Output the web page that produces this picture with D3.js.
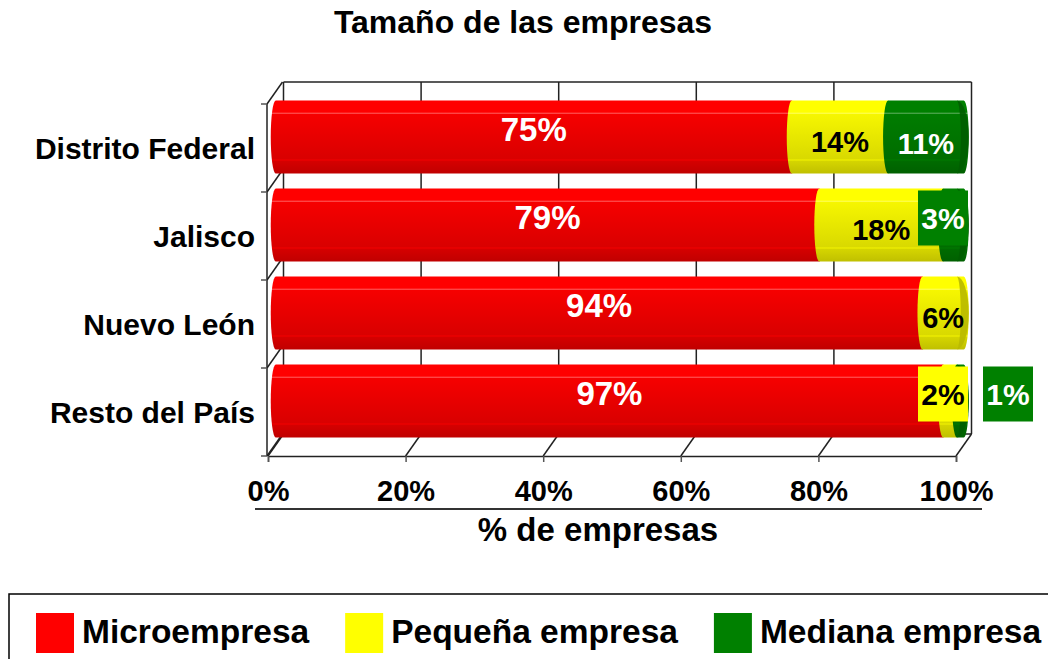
<!DOCTYPE html>
<html>
<head>
<meta charset="utf-8">
<script src="https://cdn.jsdelivr.net/npm/d3@7"></script>
<style>
body { margin: 0; background: #fff; }
text { font-family: "Liberation Sans", Arial, sans-serif; font-weight: bold; }
</style>
</head>
<body>
<svg id="mainsvg" width="1048" height="659"></svg>
<script>
// data
const categories = ["Distrito Federal", "Jalisco", "Nuevo León", "Resto del País"];
const seriesNames = ["Microempresa", "Pequeña empresa", "Mediana empresa"];
const micro = [75, 79, 94, 97];
const pequena = [14, 18, 6, 2];
const mediana = [11, 3, 0, 1];
const xTicks = [0, 20, 40, 60, 80, 100];

const colors = ["#ff0000", "#ffff00", "#008000"];
const labelColors = ["#ffffff", "#000000", "#ffffff"];
const labelSize = [33, 29, 29];
const labelDy = [-7.5, 5, 7];

let svg = d3.select('#mainsvg');
const series = [micro, pequena, mediana];
const depth = {dx: 15.5, dy: -22};

const x = d3.scaleLinear().domain([0, 100]).range([268, 956]);
const y = d3.scaleBand().domain(categories).range([104, 456]);
const bw = y.bandwidth();
const barH = bw * 0.83;
const rx = 5;

// gradients for the cylinders
const defs = svg.append('defs');
colors.forEach((c, i) => {
    const base = d3.rgb(c);
    const mix = t => d3.interpolateRgb(base, "#ffffff")(t);
    const g = defs.append('linearGradient').attr('id', 'grad' + i)
        .attr('x1', 0).attr('y1', 0).attr('x2', 0).attr('y2', 1);
    [[0, base], [0.16, base], [0.175, mix(0.35)], [0.19, base.darker(0.1)],
     [0.8, base.darker(0.45)], [0.815, base.darker(0.15)], [0.83, base.darker(0.5)],
     [1, base.darker(0.8)]].forEach(s => {
        g.append('stop').attr('offset', s[0]).attr('stop-color', s[1]);
    });
});

// 3D frame: back wall, grid, floor
const frame = svg.append('g').attr('stroke', '#222').attr('stroke-width', 1.5).attr('fill', 'none');
const bx0 = x(0) + depth.dx, bx1 = x(100) + depth.dx;
const by0 = y.range()[0] + depth.dy, by1 = y.range()[1] + depth.dy;
frame.selectAll('line.grid').data(xTicks).enter().append('line')
    .attr('x1', d => x(d) + depth.dx).attr('x2', d => x(d) + depth.dx)
    .attr('y1', by0).attr('y2', by1);
frame.append('line').attr('x1', bx0).attr('x2', bx1).attr('y1', by0).attr('y2', by0);
frame.append('line').attr('x1', bx0).attr('x2', bx1).attr('y1', by1).attr('y2', by1);
frame.selectAll('line.floor').data(xTicks).enter().append('line')
    .attr('x1', d => x(d)).attr('y1', y.range()[1])
    .attr('x2', d => x(d) + depth.dx).attr('y2', by1);
const bounds = categories.map(c => y(c)).concat([y.range()[1]]);
frame.selectAll('line.lw').data(bounds).enter().append('line')
    .attr('x1', x(0) - 1).attr('y1', d => d)
    .attr('x2', x(0) - 1 + depth.dx).attr('y2', d => d + depth.dy);

// bars as stacked cylinders
function segPath(x0, x1, top, bot) {
    const ry = (bot - top) / 2;
    return `M${x0},${top}L${x1},${top}A${rx},${ry} 0 0 1 ${x1},${bot}L${x0},${bot}A${rx},${ry} 0 0 1 ${x0},${top}Z`;
}
function capPath(x1, top, bot) {
    const ry = (bot - top) / 2;
    const xs = x1 - 7;
    return `M${xs},${top}A${rx + 7},${ry} 0 0 1 ${xs},${bot}A${4},${ry} 0 0 0 ${xs},${top}Z`;
}

const rows = categories.map((c, i) => {
    let acc = 0;
    const segs = series.map((s, k) => {
        const seg = {k: k, v: s[i], start: acc, end: acc + s[i]};
        acc += s[i];
        return seg;
    }).filter(d => d.v > 0);
    const cy = y(c) + bw / 2 + depth.dy / 2;
    return {cat: c, cy: cy, top: cy - barH / 2, bot: cy + barH / 2, segs: segs};
});
const bx = v => x(v) + depth.dx / 2;

const barG = svg.append('g');
rows.forEach(r => {
    const g = barG.append('g');
    g.selectAll('path.seg').data(r.segs).enter().append('path')
        .attr('d', d => segPath(bx(d.start), bx(d.end), r.top, r.bot))
        .attr('fill', d => `url(#grad${d.k})`);
    const last = r.segs[r.segs.length - 1];
    g.append('path').attr('d', capPath(bx(last.end), r.top, r.bot))
        .attr('fill', d3.rgb(colors[last.k]).darker(0.9)).attr('opacity', 0.9);
});

// axes
const xAxis = d3.axisBottom(x).tickValues(xTicks).tickFormat(d => d + '%')
    .tickSize(6).tickPadding(18);
const gx = svg.append('g').attr('transform', `translate(0,${y.range()[1]})`).call(xAxis);
gx.select('.domain').attr('stroke', '#222').attr('stroke-width', 1.5);
gx.selectAll('.tick line').attr('stroke', '#555').attr('stroke-width', 1.5);
gx.selectAll('text').attr('font-size', 29).attr('fill', '#000')
    .style('font-family', '"Liberation Sans", Arial, sans-serif').style('font-weight', 'bold');

const yAxis = d3.axisLeft(y).tickSize(0).tickPadding(12);
const gy = svg.append('g').attr('transform', `translate(${x(0) - 1},0)`).call(yAxis);
gy.select('.domain').remove();
gy.selectAll('text').attr('font-size', 30).attr('fill', '#000').attr('dy', '0.36em')
    .style('font-family', '"Liberation Sans", Arial, sans-serif').style('font-weight', 'bold');
svg.append('line').attr('x1', x(0) - 1).attr('x2', x(0) - 1)
    .attr('y1', y.range()[0]).attr('y2', y.range()[1]).attr('stroke', '#222').attr('stroke-width', 1.5);
svg.selectAll('line.ytick').data(bounds).enter().append('line')
    .attr('x1', x(0) - 7).attr('x2', x(0) - 1).attr('y1', d => d).attr('y2', d => d)
    .attr('stroke', '#555').attr('stroke-width', 1.5);

// data labels
const plotRight = 968, boxW = 50, boxH = 55;
const labelG = svg.append('g');
rows.forEach(r => {
    let prevBoxRight = -Infinity;
    r.segs.forEach(d => {
        const txt = d.v + '%';
        let cx = (bx(d.start) + bx(d.end)) / 2;
        if (d.v < 5) {
            cx = Math.min(cx, plotRight - boxW / 2);
            if (cx - boxW / 2 < prevBoxRight) cx = prevBoxRight + 15 + boxW / 2;
            prevBoxRight = cx + boxW / 2;
            const cy = r.cy - 7;
            labelG.append('rect').attr('x', cx - boxW / 2).attr('y', cy - boxH / 2)
                .attr('width', boxW).attr('height', boxH).attr('fill', colors[d.k]);
            labelG.append('text').attr('x', cx).attr('y', cy).attr('dy', '0.36em')
                .attr('text-anchor', 'middle').attr('font-size', 30)
                .attr('fill', labelColors[d.k]).text(txt);
        } else {
            labelG.append('text').attr('x', cx).attr('y', r.cy + labelDy[d.k]).attr('dy', '0.36em')
                .attr('text-anchor', 'middle').attr('font-size', labelSize[d.k])
                .attr('fill', labelColors[d.k]).text(txt);
        }
    });
});

// titles
svg.append('text').attr('x', 523).attr('y', 33).attr('text-anchor', 'middle')
    .attr('font-size', 32).text('Tamaño de las empresas');
svg.append('line').attr('x1', 255).attr('x2', 982).attr('y1', 509).attr('y2', 509)
    .attr('stroke', '#333').attr('stroke-width', 2);
svg.append('text').attr('x', 598).attr('y', 541).attr('text-anchor', 'middle')
    .attr('font-size', 33).text('% de empresas');

// legend
const leg = svg.append('g');
leg.append('rect').attr('x', 9).attr('y', 594).attr('width', 1060).attr('height', 90)
    .attr('fill', 'none').attr('stroke', '#000').attr('stroke-width', 1.5);
let lx = 36;
seriesNames.forEach((name, i) => {
    leg.append('rect').attr('x', lx).attr('y', 613).attr('width', 38).attr('height', 40)
        .attr('fill', colors[i]);
    const t = leg.append('text').attr('x', lx + 46).attr('y', 643)
        .attr('font-size', 33.5).text(name);
    lx = lx + 46 + t.node().getComputedTextLength() + 36;
});
</script>
</body>
</html>
